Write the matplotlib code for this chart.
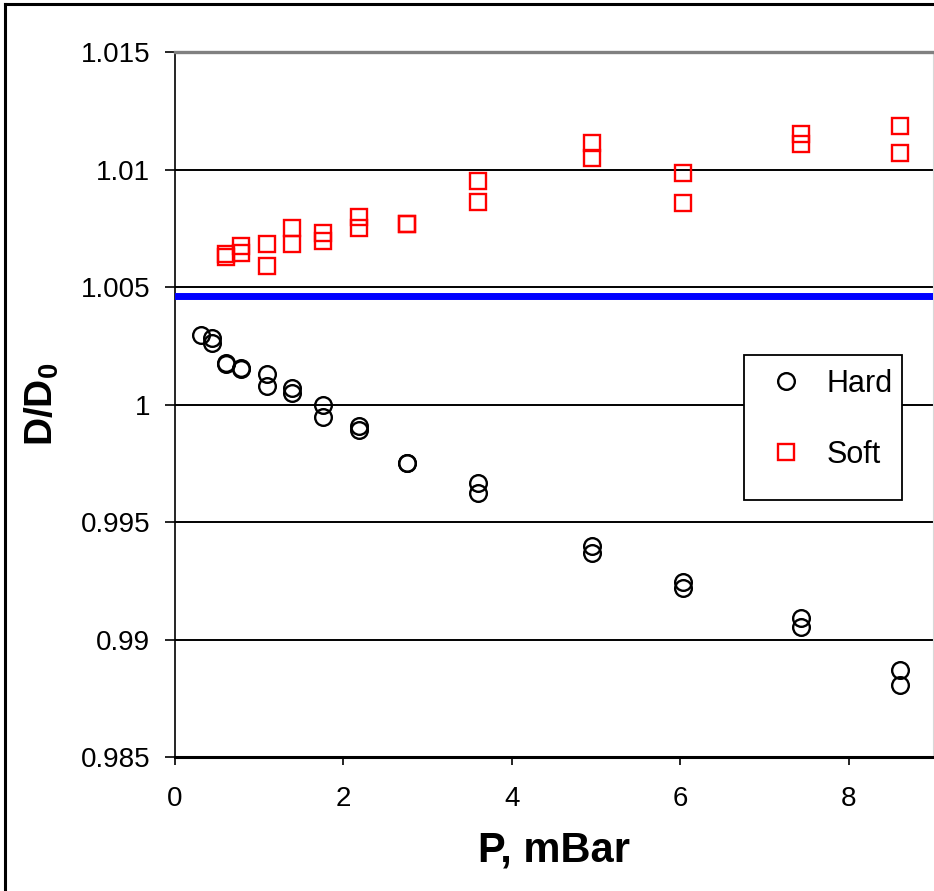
import matplotlib
matplotlib.use("Agg")
import matplotlib.pyplot as plt
from matplotlib.lines import Line2D
from matplotlib.patches import Rectangle

plt.rcParams['font.family'] = ['Liberation Sans', 'DejaVu Sans']
plt.rcParams['mathtext.fontset'] = 'custom'
plt.rcParams['mathtext.rm'] = 'Liberation Sans'
plt.rcParams['mathtext.bf'] = 'Liberation Sans:bold'

# pressure (mBar) and normalised diameter for each run
hard_p = [0.31, 0.44, 0.44, 0.61, 0.61, 0.78, 0.78, 1.09, 1.09, 1.39, 1.39,
          1.76, 1.76, 2.18, 2.18, 2.75, 2.75, 3.60, 3.60, 4.95, 4.95,
          6.03, 6.03, 7.43, 7.43, 8.61, 8.61]
hard_d = [1.00296, 1.00283, 1.00262, 1.00177, 1.00172, 1.00157, 1.00153,
          1.00130, 1.00079, 1.00070, 1.00049, 0.99998, 0.99947, 0.99909,
          0.99891, 0.99752, 0.99749, 0.99668, 0.99625, 0.99398, 0.99368,
          0.99245, 0.99219, 0.99092, 0.99053, 0.98870, 0.98806]

soft_p = [0.61, 0.61, 0.78, 0.78, 1.09, 1.09, 1.39, 1.39, 1.76, 1.76,
          2.18, 2.18, 2.75, 2.75, 3.60, 3.60, 4.95, 4.95, 6.03, 6.03,
          7.43, 7.43, 8.61, 8.61]
soft_d = [1.00640, 1.00628, 1.00674, 1.00645, 1.00683, 1.00589, 1.00751,
          1.00683, 1.00730, 1.00696, 1.00798, 1.00751, 1.00769, 1.00767,
          1.00951, 1.00862, 1.01113, 1.01049, 1.00985, 1.00857, 1.01151,
          1.01109, 1.01185, 1.01070]

ref_level = 1.0046
y_ticks = [0.985, 0.99, 0.995, 1.0, 1.005, 1.01, 1.015]
y_tick_labels = ['0.985', '0.99', '0.995', '1', '1.005', '1.01', '1.015']
x_ticks = [0, 2, 4, 6, 8]

fig = plt.figure(figsize=(9.34, 8.91), dpi=100)
ax = fig.add_axes([0.1874, 0.1504, 0.8116, 0.7912])

ax.plot(hard_p, hard_d, linestyle='none', marker='o', ms=12, mew=1.7,
        mfc='none', mec='black', label='Hard', zorder=4)
ax.plot(soft_p, soft_d, linestyle='none', marker='s', ms=12, mew=1.7,
        mfc='none', mec='red', label='Soft', zorder=4)
ax.axhline(ref_level, color='#0000ff', lw=5, zorder=3)

ax.set_xlim(0, 9)
ax.set_ylim(0.985, 1.015)
ax.set_xticks(x_ticks)
ax.set_yticks(y_ticks)
ax.set_yticklabels(y_tick_labels)
ax.yaxis.grid(True, color='black', lw=1.4)
ax.set_axisbelow(True)

ax.tick_params(axis='y', direction='out', length=7, width=1.2,
               labelsize=20, pad=11)
ax.tick_params(axis='x', direction='out', length=6, width=1.2,
               labelsize=20, pad=15)

ax.spines['left'].set_color('black')
ax.spines['left'].set_linewidth(1.2)
ax.spines['bottom'].set_color('black')
ax.spines['bottom'].set_linewidth(2.2)
ax.spines['top'].set_color('#808080')
ax.spines['top'].set_linewidth(2.4)
ax.spines['right'].set_color('#d8d8d8')
ax.spines['right'].set_linewidth(0.8)

ax.set_xlabel('P, mBar', fontsize=30, fontweight='bold', labelpad=13)
ax.set_ylabel(r'$\mathbf{D/D_0}$', fontsize=28, labelpad=14)

# legend frame drawn separately so it keeps the extra space at the bottom
ax.add_patch(Rectangle((0.751, 0.3645), 0.208, 0.2055, transform=ax.transAxes,
                       facecolor='white', edgecolor='black', lw=1.3,
                       zorder=5))
ax.legend(loc='upper left', bbox_to_anchor=(0.751, 0.570), frameon=False,
          fontsize=22, borderaxespad=0, borderpad=0.45, handlelength=1.8,
          handletextpad=0.45, labelspacing=1.35)

# outer border along the left and top of the figure
fig.add_artist(Line2D([0.0055, 0.0055], [0.0, 0.9955], color='black', lw=2.2,
                      transform=fig.transFigure))
fig.add_artist(Line2D([0.0055, 1.0], [0.9955, 0.9955], color='black', lw=2.2,
                      transform=fig.transFigure))

fig.savefig('out.png', dpi=100)
